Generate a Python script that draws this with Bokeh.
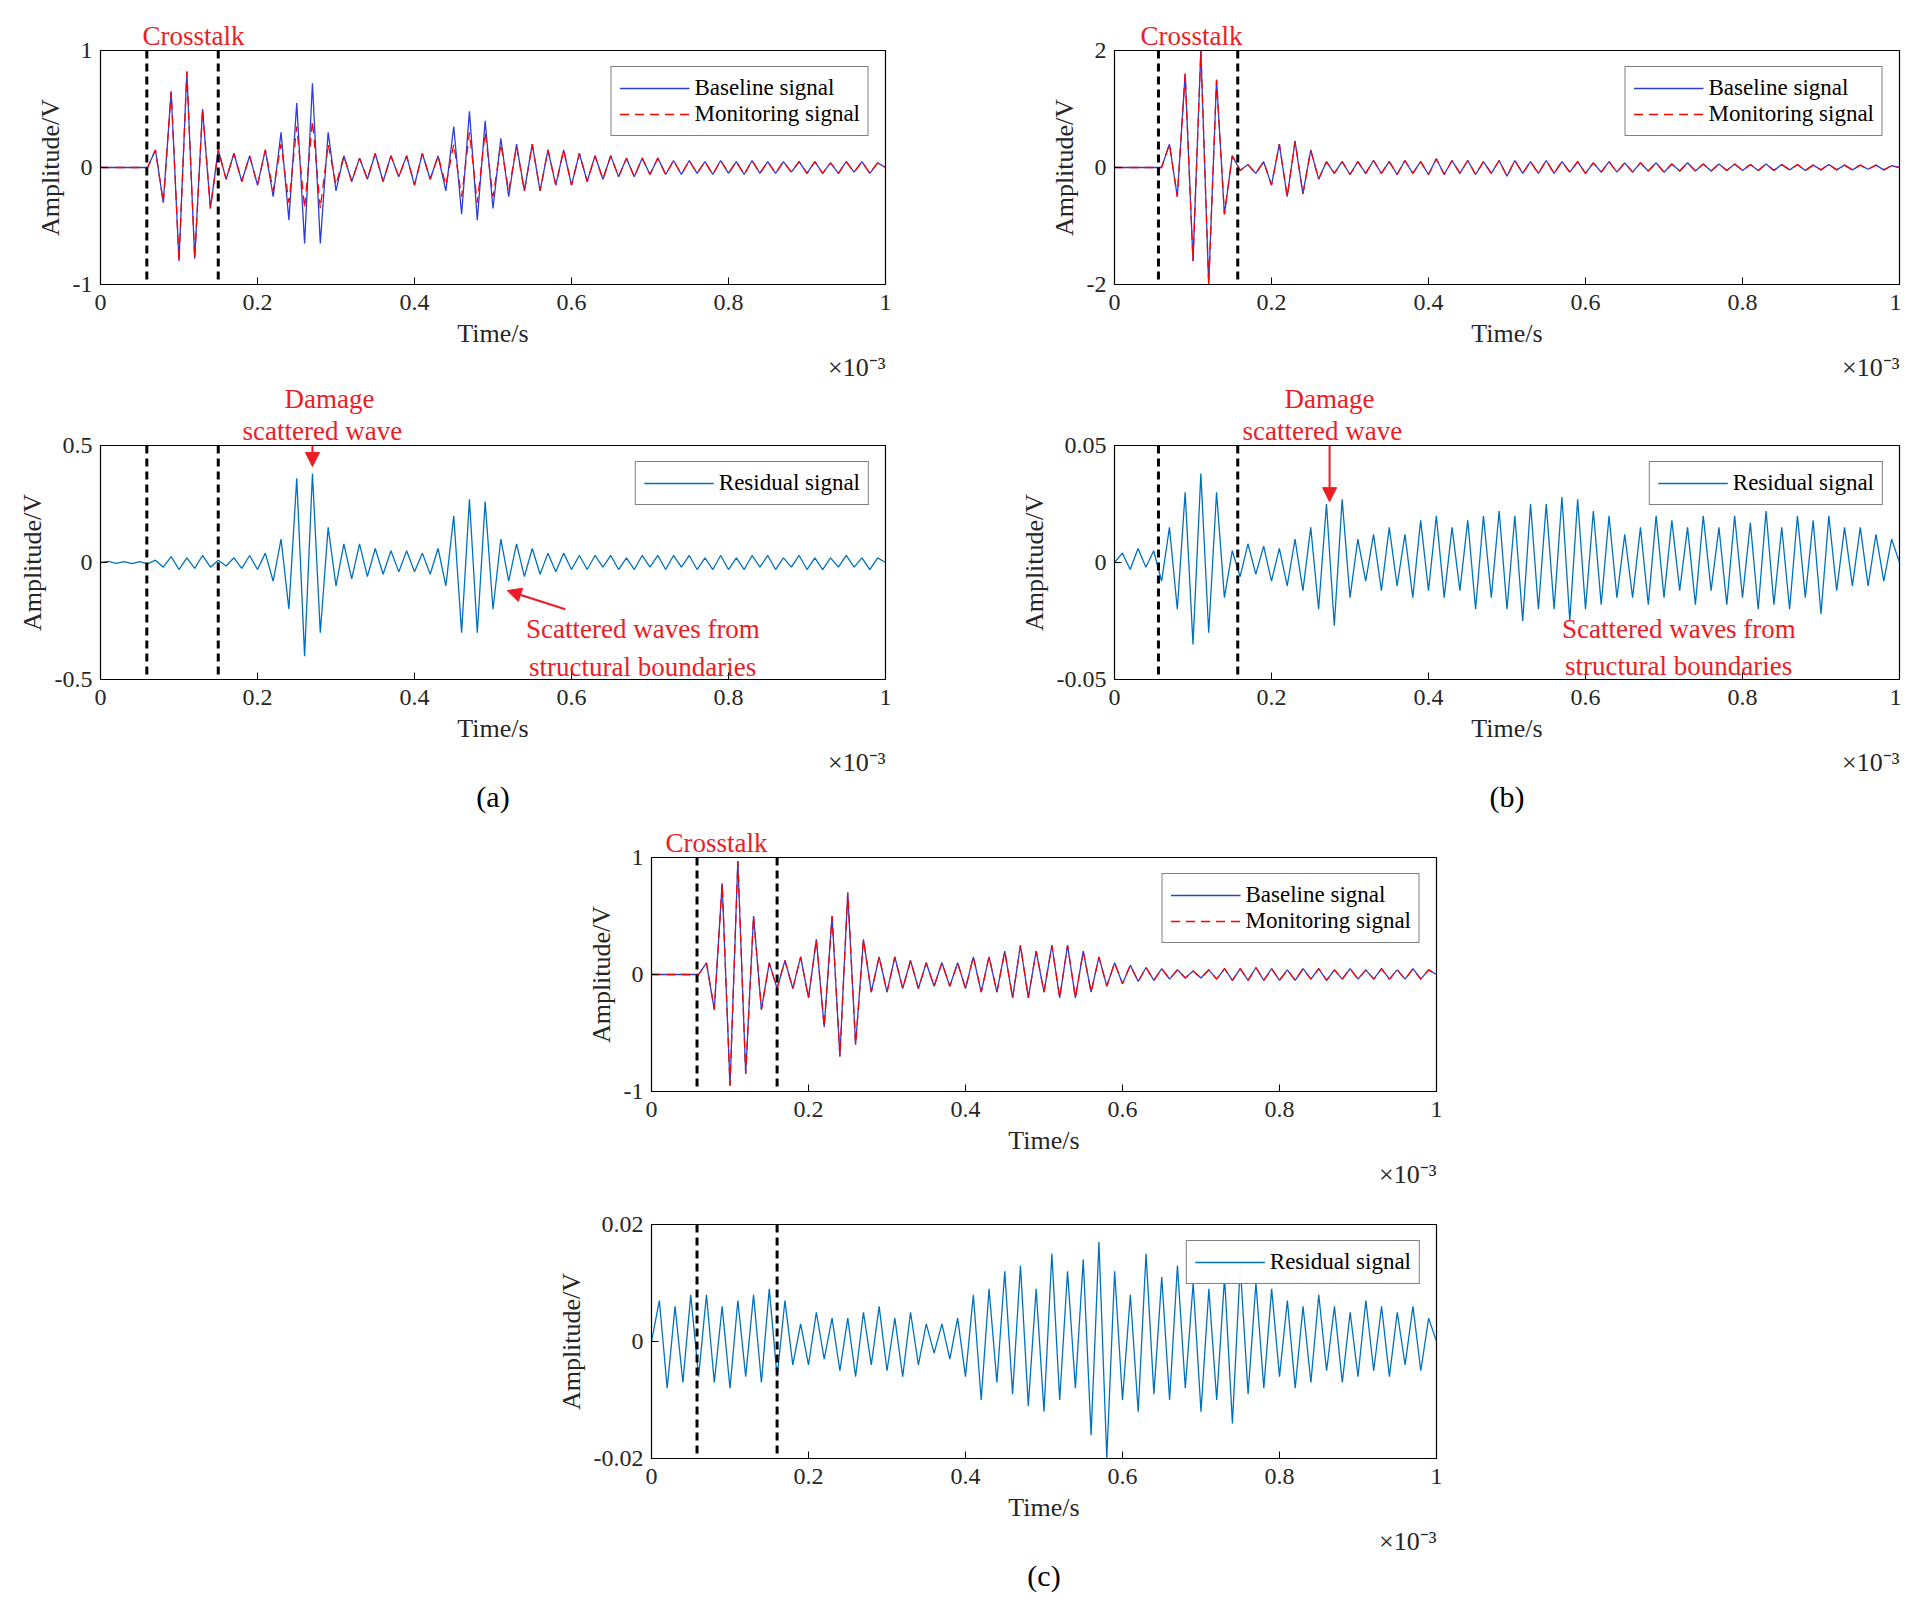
import numpy as np
from bokeh.plotting import figure
from bokeh.layouts import column, row, Spacer
from bokeh.models import Label, Arrow, NormalHead, FixedTicker, Title
from bokeh.embed import file_html
from bokeh.resources import INLINE

FONT = "Liberation Serif"
RED = "#ee1c24"
BLUE = "#2b3fd6"
RES = "#0072bd"

# ---- data: successive extrema (half-periods spread evenly over 0..1e-3 s), amplitudes in V ----
a_base = [0,0,0,0,0,0,0,0.15,-0.3,0.65,-0.8,0.82,-0.78,0.5,-0.35,0.15,-0.1,0.12,-0.12,0.1,-0.15,0.15,-0.25,0.3,-0.45,0.55,-0.65,0.72,-0.65,0.3,-0.2,0.1,-0.12,0.08,-0.1,0.12,-0.12,0.1,-0.08,0.1,-0.15,0.12,-0.1,0.1,-0.2,0.35,-0.4,0.48,-0.45,0.4,-0.35,0.25,-0.25,0.2,-0.2,0.2,-0.2,0.15,-0.15,0.15,-0.15,0.12,-0.12,0.1,-0.1,0.1,-0.08,0.08,-0.08,0.08,-0.06,0.08,-0.06,0.06,-0.06,0.06,-0.05,0.05,-0.06,0.06,-0.05,0.05,-0.06,0.06,-0.05,0.05,-0.05,0.05,-0.04,0.05,-0.05,0.05,-0.05,0.04,-0.05,0.05,-0.04,0.05,-0.05,0.04,0]
a_mon = [0,0,0,0,0,0,0,0.15,-0.3,0.65,-0.8,0.82,-0.78,0.5,-0.35,0.15,-0.1,0.12,-0.12,0.1,-0.15,0.15,-0.2,0.2,-0.3,0.35,-0.35,0.4,-0.35,0.2,-0.15,0.1,-0.12,0.08,-0.1,0.12,-0.12,0.1,-0.08,0.1,-0.15,0.12,-0.1,0.1,-0.15,0.2,-0.25,0.3,-0.3,0.3,-0.25,0.2,-0.2,0.18,-0.2,0.2,-0.2,0.15,-0.15,0.15,-0.15,0.12,-0.12,0.1,-0.1,0.1,-0.08,0.08,-0.08,0.08,-0.06,0.08,-0.06,0.06,-0.06,0.06,-0.05,0.05,-0.06,0.06,-0.05,0.05,-0.06,0.06,-0.05,0.05,-0.05,0.05,-0.04,0.05,-0.05,0.05,-0.05,0.04,-0.05,0.05,-0.04,0.05,-0.05,0.04,0]
a_res = [0,0.005,-0.004,0.004,-0.005,0.004,-0.006,0.01,-0.02,0.025,-0.03,0.02,-0.025,0.03,-0.02,0.01,-0.015,0.02,-0.025,0.03,-0.03,0.04,-0.08,0.1,-0.2,0.36,-0.4,0.38,-0.3,0.15,-0.1,0.08,-0.07,0.08,-0.06,0.06,-0.05,0.05,-0.04,0.05,-0.04,0.04,-0.05,0.06,-0.1,0.2,-0.3,0.27,-0.3,0.26,-0.2,0.1,-0.08,0.08,-0.06,0.06,-0.05,0.04,-0.04,0.04,-0.03,0.03,-0.03,0.03,-0.02,0.03,-0.03,0.02,-0.03,0.03,-0.02,0.03,-0.03,0.03,-0.02,0.03,-0.03,0.02,-0.03,0.03,-0.03,0.02,-0.03,0.03,-0.02,0.03,-0.03,0.02,-0.02,0.03,-0.03,0.02,-0.03,0.02,-0.02,0.03,-0.02,0.02,-0.03,0.02,0]
b_base = [0,0,0,0,0,0,0,0.4,-0.5,1.6,-1.6,2.0,-2.0,1.5,-0.8,0.2,-0.05,0.05,-0.1,0.1,-0.3,0.4,-0.5,0.45,-0.45,0.3,-0.2,0.1,-0.1,0.1,-0.12,0.1,-0.1,0.12,-0.1,0.1,-0.12,0.12,-0.1,0.1,-0.12,0.15,-0.12,0.12,-0.1,0.12,-0.12,0.1,-0.1,0.12,-0.15,0.12,-0.1,0.1,-0.1,0.12,-0.1,0.1,-0.08,0.1,-0.1,0.08,-0.08,0.1,-0.08,0.08,-0.08,0.08,-0.06,0.08,-0.08,0.06,-0.06,0.08,-0.06,0.06,-0.06,0.06,-0.05,0.06,-0.05,0.05,-0.05,0.06,-0.05,0.05,-0.04,0.05,-0.05,0.04,-0.04,0.05,-0.04,0.04,-0.04,0.04,-0.03,0.04,-0.04,0.03,0]
b_mon = b_base
b_res = [0,0.004,-0.003,0.006,-0.002,0.005,-0.008,0.015,-0.02,0.03,-0.035,0.038,-0.03,0.03,-0.015,0.005,-0.006,0.008,-0.005,0.007,-0.008,0.006,-0.01,0.01,-0.012,0.015,-0.02,0.025,-0.027,0.027,-0.015,0.01,-0.008,0.012,-0.012,0.015,-0.01,0.012,-0.015,0.018,-0.012,0.02,-0.015,0.015,-0.012,0.018,-0.02,0.02,-0.015,0.022,-0.02,0.02,-0.025,0.025,-0.02,0.025,-0.02,0.028,-0.025,0.027,-0.02,0.022,-0.018,0.02,-0.015,0.012,-0.015,0.015,-0.018,0.02,-0.015,0.018,-0.012,0.015,-0.018,0.02,-0.012,0.015,-0.018,0.02,-0.015,0.017,-0.02,0.022,-0.018,0.015,-0.02,0.02,-0.015,0.018,-0.022,0.02,-0.012,0.015,-0.01,0.015,-0.01,0.012,-0.008,0.01,0]
c_base = [0,0,0,0,0,0,0,0.1,-0.3,0.78,-0.95,0.97,-0.85,0.5,-0.3,0.1,-0.12,0.12,-0.12,0.15,-0.2,0.3,-0.45,0.5,-0.7,0.7,-0.6,0.3,-0.15,0.15,-0.15,0.15,-0.12,0.12,-0.12,0.1,-0.1,0.1,-0.1,0.1,-0.12,0.15,-0.15,0.15,-0.15,0.2,-0.2,0.25,-0.2,0.2,-0.15,0.25,-0.2,0.25,-0.2,0.2,-0.15,0.15,-0.1,0.1,-0.08,0.08,-0.06,0.06,-0.05,0.05,-0.04,0.04,-0.03,0.03,-0.03,0.04,-0.04,0.05,-0.05,0.05,-0.05,0.06,-0.05,0.05,-0.05,0.04,-0.05,0.05,-0.04,0.05,-0.05,0.04,-0.04,0.05,-0.04,0.04,-0.04,0.05,-0.04,0.04,-0.04,0.05,-0.04,0.04,0]
c_mon = c_base
c_res = [0,0.007,-0.008,0.006,-0.007,0.008,-0.006,0.008,-0.007,0.006,-0.008,0.007,-0.006,0.008,-0.007,0.009,-0.006,0.007,-0.004,0.003,-0.004,0.005,-0.003,0.004,-0.005,0.004,-0.006,0.005,-0.004,0.006,-0.005,0.004,-0.006,0.005,-0.004,0.003,-0.002,0.003,-0.003,0.004,-0.006,0.008,-0.01,0.009,-0.007,0.012,-0.009,0.013,-0.011,0.009,-0.012,0.015,-0.01,0.012,-0.008,0.014,-0.016,0.017,-0.02,0.012,-0.01,0.008,-0.012,0.015,-0.009,0.011,-0.01,0.013,-0.008,0.01,-0.012,0.009,-0.01,0.011,-0.014,0.013,-0.009,0.01,-0.008,0.009,-0.006,0.007,-0.008,0.006,-0.007,0.008,-0.005,0.006,-0.007,0.005,-0.006,0.007,-0.005,0.006,-0.006,0.005,-0.004,0.006,-0.005,0.004,0]

x_ticks = [0, 0.2, 0.4, 0.6, 0.8, 1.0]
x_tick_labels = ["0", "0.2", "0.4", "0.6", "0.8", "1"]
crosstalk = {"a": (0.059, 0.15), "b": (0.056, 0.157), "c": (0.058, 0.16)}

FW = 785
FH = 234


def tx(vals):
    return np.linspace(0, 1, len(vals))


def make_fig(bl, br, bt, bb, ylim, yticks, ylabels):
    p = figure(frame_width=FW, frame_height=FH, x_range=(0, 1), y_range=ylim,
               output_backend="svg", toolbar_location=None, min_border_left=bl,
               min_border_right=br, min_border_top=bt, min_border_bottom=bb)
    p.grid.visible = False
    p.outline_line_color = "black"
    p.outline_line_width = 1.2
    p.xaxis.ticker = FixedTicker(ticks=x_ticks)
    p.xaxis.major_label_overrides = {t: l for t, l in zip(x_ticks, x_tick_labels)}
    p.yaxis.ticker = FixedTicker(ticks=yticks)
    p.yaxis.major_label_overrides = {t: l for t, l in zip(yticks, ylabels)}
    for ax in (p.xaxis, p.yaxis):
        ax.major_label_text_font = FONT
        ax.major_label_text_font_size = "24px"
        ax.major_label_text_color = "#262626"
        ax.axis_label_text_font = FONT
        ax.axis_label_text_font_size = "26px"
        ax.axis_label_text_font_style = "normal"
        ax.axis_label_text_color = "#262626"
        ax.major_tick_in = 7
        ax.major_tick_out = 0
        ax.minor_tick_line_color = None
        ax.axis_line_color = "black"
    p.yaxis.major_label_standoff = 8
    p.xaxis.axis_label = "Time/s"
    p.yaxis.axis_label = "Amplitude/V"
    p.xaxis.major_label_standoff = 10
    p.xaxis.axis_label_standoff = 6
    p.add_layout(Title(text="×10⁻³", align="right", text_font=FONT, text_font_size="26px",
                       text_font_style="normal", text_color="#262626", standoff=0), "below")
    return p


def style_legend(p):
    lg = p.legend[0]
    lg.location = "top_right"
    lg.label_text_font = FONT
    lg.label_text_font_size = "23px"
    lg.label_text_color = "black"
    lg.glyph_width = 70
    lg.glyph_height = 20
    lg.spacing = 0
    lg.padding = 8
    lg.margin = 16
    lg.border_line_color = "black"
    lg.label_height = 26


def dashes(p, key, ylo, yhi):
    for xv in crosstalk[key]:
        p.add_layout(Arrow(end=None, x_start=xv, y_start=yhi, x_end=xv, y_end=ylo,
                           line_color="black", line_width=3, line_dash="8 5"))


def red_title(p, text, offset, place):
    p.add_layout(Title(text=text, align="left", offset=offset, text_font=FONT,
                       text_font_size="27px", text_font_style="normal",
                       text_color=RED, standoff=0), place)


def red_label(p, x, y, text):
    p.add_layout(Label(x=x, y=y, text=text, text_font=FONT, text_font_size="27px",
                       text_color=RED, text_align="left", text_baseline="middle"))


def red_arrow(p, x0, y0, x1, y1):
    p.add_layout(Arrow(end=NormalHead(size=14, fill_color=RED, line_color=RED),
                       x_start=x0, y_start=y0, x_end=x1, y_end=y1,
                       line_color=RED, line_width=2))


def top_panel(key, base, mon, ylim, yt, yl, br, cross_off, bt):
    p = make_fig(100, br, bt, 60, ylim, yt, yl)
    p.line(tx(base), base, line_color=BLUE, line_width=1.3, legend_label="Baseline signal")
    p.line(tx(mon), mon, line_color="red", line_width=1.3, line_dash="9 6",
           legend_label="Monitoring signal")
    style_legend(p)
    dashes(p, key, ylim[0], ylim[1])
    red_title(p, "Crosstalk", cross_off, "above")
    return p


def bottom_panel(key, res, ylim, yt, yl, br, bt):
    p = make_fig(100, br, bt, 60, ylim, yt, yl)
    p.line(tx(res), res, line_color=RES, line_width=1.3, legend_label="Residual signal")
    style_legend(p)
    dashes(p, key, ylim[0], ylim[1])
    return p


def fig_label(p, text):
    p.add_layout(Title(text=text, align="center", text_font=FONT, text_font_size="30px",
                       text_font_style="normal", text_color="black", standoff=2), "below")


# row 1
pa1 = top_panel("a", a_base, a_mon, (-1, 1), [-1, 0, 1], ["-1", "0", "1"], 129, 42, 50)
pb1 = top_panel("b", b_base, b_mon, (-2, 2), [-2, 0, 2], ["-2", "0", "2"], 2, 26, 50)

# row 2
pa2 = bottom_panel("a", a_res, (-0.5, 0.5), [-0.5, 0, 0.5], ["-0.5", "0", "0.5"], 129, 20)
red_title(pa2, "scattered wave", 142, "above")
red_title(pa2, "Damage", 184, "above")
red_arrow(pa2, 0.27, 0.5, 0.27, 0.41)
red_label(pa2, 0.542, -0.285, "Scattered waves from")
red_label(pa2, 0.546, -0.445, "structural boundaries")
red_arrow(pa2, 0.592, -0.2, 0.518, -0.12)
fig_label(pa2, "(a)")

pb2 = bottom_panel("b", b_res, (-0.05, 0.05), [-0.05, 0, 0.05], ["-0.05", "0", "0.05"], 2, 20)
red_title(pb2, "scattered wave", 128, "above")
red_title(pb2, "Damage", 170, "above")
red_arrow(pb2, 0.274, 0.05, 0.274, 0.026)
red_label(pb2, 0.57, -0.0284, "Scattered waves from")
red_label(pb2, 0.574, -0.0444, "structural boundaries")
fig_label(pb2, "(b)")

# rows 3/4
pc1 = top_panel("c", c_base, c_mon, (-1, 1), [-1, 0, 1], ["-1", "0", "1"], 129, 14, 44)
pc2 = bottom_panel("c", c_res, (-0.02, 0.02), [-0.02, 0, 0.02], ["-0.02", "0", "0.02"], 129, 36)
fig_label(pc2, "(c)")

layout = column(row(pa1, pb1, spacing=0), row(pa2, pb2, spacing=0),
                row(Spacer(width=551), pc1, spacing=0), row(Spacer(width=551), pc2, spacing=0),
                spacing=0)

open("out.html", "w").write(file_html(layout, INLINE))
